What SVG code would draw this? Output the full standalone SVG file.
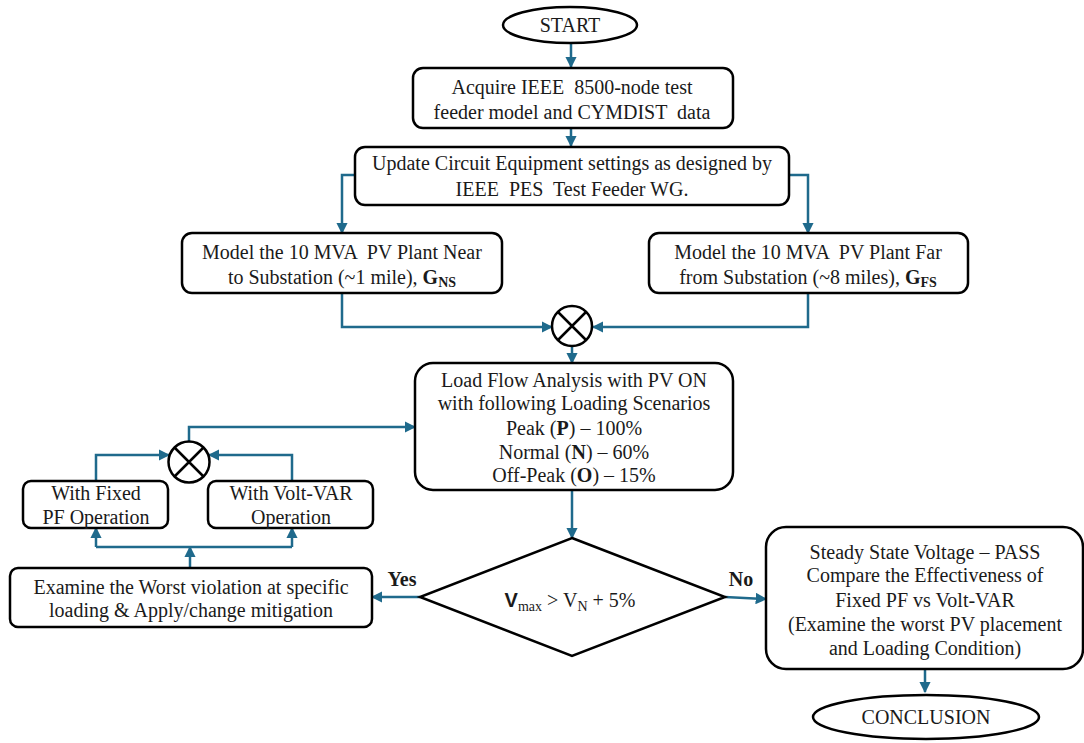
<svg xmlns="http://www.w3.org/2000/svg" width="1084" height="743" viewBox="0 0 1084 743">
<style>
.box{fill:#fff;stroke:#000;stroke-width:2.5}
.t{font-family:"Liberation Serif","Times New Roman",serif;font-size:20px;fill:#1a1a1a;text-anchor:middle;white-space:pre}
.b{font-weight:bold}
.sub{font-size:14px}
.c{fill:none;stroke:#1f6a8c;stroke-width:2.5}
</style>
<defs>
<marker id="ah" viewBox="0 0 10 10" refX="9" refY="5" markerWidth="4.6" markerHeight="4.6" orient="auto" markerUnits="strokeWidth">
<path d="M0,0 L10,5 L0,10 z" fill="#1f6a8c"/>
</marker>
</defs>
<rect width="1084" height="743" fill="#fff"/>
<g id="connectors">
<path class="c" d="M571,44 V67" marker-end="url(#ah)"/>
<path class="c" d="M571,128 V146" marker-end="url(#ah)"/>
<path class="c" d="M355,175 H342 V233" marker-end="url(#ah)"/>
<path class="c" d="M789,175 H808 V233" marker-end="url(#ah)"/>
<path class="c" d="M342,293 V327 H552" marker-end="url(#ah)"/>
<path class="c" d="M808,293 V327 H593" marker-end="url(#ah)"/>
<path class="c" d="M572,346 V363" marker-end="url(#ah)"/>
<path class="c" d="M572,490 V538" marker-end="url(#ah)"/>
<path class="c" d="M420,597 H372" marker-end="url(#ah)"/>
<path class="c" d="M725,597 L766,599" marker-end="url(#ah)"/>
<path class="c" d="M925,669 V692" marker-end="url(#ah)"/>
<path class="c" d="M189,441 V427 H415" marker-end="url(#ah)"/>
<path class="c" d="M96,481 V455 H169" marker-end="url(#ah)"/>
<path class="c" d="M292,481 V455 H209" marker-end="url(#ah)"/>
<path class="c" d="M190,568 V547" marker-end="url(#ah)"/>
<path class="c" d="M96,547 H292"/>
<path class="c" d="M96,547 V528" marker-end="url(#ah)"/>
<path class="c" d="M292,547 V528" marker-end="url(#ah)"/>
<text class="t b" x="402" y="586">Yes</text>
<text class="t b" x="741" y="586">No</text>
</g>
<g id="start">
<ellipse class="box" cx="570" cy="25" rx="67" ry="18"/>
<text class="t" x="570" y="32">START</text>
</g>
<g id="acquire">
<rect class="box" x="413" y="68" width="320" height="60" rx="10"/>
<text class="t" x="572" y="94">Acquire IEEE  8500-node test</text>
<text class="t" x="572" y="119">feeder model and CYMDIST  data</text>
</g>
<g id="update">
<rect class="box" x="355" y="147" width="434" height="58" rx="10"/>
<text class="t" x="572" y="170">Update Circuit Equipment settings as designed by</text>
<text class="t" x="572" y="196">IEEE  PES  Test Feeder WG.</text>
</g>
<g id="near">
<rect class="box" x="182" y="233" width="320" height="60" rx="10"/>
<text class="t" x="342" y="259">Model the 10 MVA  PV Plant Near</text>
<text class="t" x="342" y="284">to Substation (~1 mile), <tspan class="b">G</tspan><tspan class="b sub" dy="3">NS</tspan></text>
</g>
<g id="far">
<rect class="box" x="649" y="233" width="319" height="60" rx="10"/>
<text class="t" x="808" y="259">Model the 10 MVA  PV Plant Far</text>
<text class="t" x="808" y="284">from Substation (~8 miles), <tspan class="b">G</tspan><tspan class="b sub" dy="3">FS</tspan></text>
</g>
<g id="sum1">
<circle class="box" cx="572" cy="326" r="20"/>
<path d="M558,312 L586,340 M586,312 L558,340" stroke="#000" stroke-width="2.5"/>
</g>
<g id="loadflow">
<rect class="box" x="415" y="363" width="318" height="127" rx="18"/>
<text class="t" x="574" y="387">Load Flow Analysis with PV ON</text>
<text class="t" x="574" y="410">with following Loading Scenarios</text>
<text class="t" x="574" y="435">Peak (<tspan class="b">P</tspan>) – 100%</text>
<text class="t" x="574" y="459">Normal (<tspan class="b">N</tspan>) – 60%</text>
<text class="t" x="574" y="482">Off-Peak (<tspan class="b">O</tspan>) – 15%</text>
</g>
<g id="sum2">
<circle class="box" cx="189" cy="462" r="20.5"/>
<path d="M174.5,447.5 L203.5,476.5 M203.5,447.5 L174.5,476.5" stroke="#000" stroke-width="2.5"/>
</g>
<g id="fixedpf">
<rect class="box" x="23" y="481" width="145" height="47" rx="8"/>
<text class="t" x="96" y="500">With Fixed</text>
<text class="t" x="96" y="524">PF Operation</text>
</g>
<g id="voltvar">
<rect class="box" x="208" y="481" width="165" height="47" rx="8"/>
<text class="t" x="291" y="500">With Volt-VAR</text>
<text class="t" x="291" y="524">Operation</text>
</g>
<g id="examine">
<rect class="box" x="10" y="568" width="362" height="59" rx="8"/>
<text class="t" x="191" y="594">Examine the Worst violation at specific</text>
<text class="t" x="191" y="617">loading &amp; Apply/change mitigation</text>
</g>
<g id="decision">
<polygon class="box" points="572,538 725,597 572,656 420,597"/>
<text class="t" x="570" y="607"><tspan font-family="Liberation Sans, Arial, sans-serif" font-weight="bold">V</tspan><tspan class="sub" dy="4">max</tspan><tspan dy="-4"> &gt; V</tspan><tspan class="sub" dy="4">N</tspan><tspan dy="-4"> + 5%</tspan></text>
</g>
<g id="pass">
<rect class="box" x="766" y="527" width="317" height="142" rx="20"/>
<text class="t" x="925" y="559">Steady State Voltage – PASS</text>
<text class="t" x="925" y="582">Compare the Effectiveness of</text>
<text class="t" x="925" y="607">Fixed PF vs Volt-VAR</text>
<text class="t" x="925" y="631">(Examine the worst PV placement</text>
<text class="t" x="925" y="655">and Loading Condition)</text>
</g>
<g id="conclusion">
<ellipse class="box" cx="926" cy="717" rx="113" ry="22"/>
<text class="t" x="926" y="724">CONCLUSION</text>
</g>
</svg>
